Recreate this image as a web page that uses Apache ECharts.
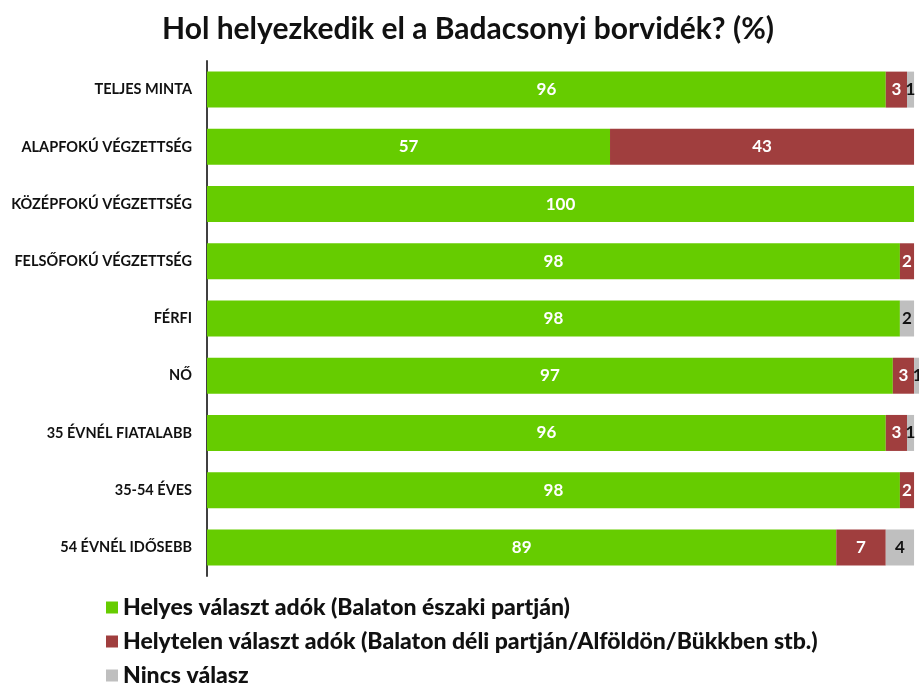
<!DOCTYPE html>
<html>
<head>
<meta charset="utf-8">
<script src="https://cdn.jsdelivr.net/npm/echarts@6/dist/echarts.min.js"></script>
<style>
html, body { margin: 0; padding: 0; background: #fff; }
#chart { width: 919px; height: 687px; }
</style>
</head>
<body>
<div id="chart"></div>
<script>
// adatok
var categories = ['TELJES MINTA', 'ALAPFOKÚ VÉGZETTSÉG', 'KÖZÉPFOKÚ VÉGZETTSÉG', 'FELSŐFOKÚ VÉGZETTSÉG',
    'FÉRFI', 'NŐ', '35 ÉVNÉL FIATALABB', '35-54 ÉVES', '54 ÉVNÉL IDŐSEBB'];
var helyes = [96, 57, 100, 98, 98, 97, 96, 98, 89];
var helytelen = [3, 43, 0, 2, 0, 3, 3, 2, 7];
var nincs = [1, 0, 0, 0, 2, 1, 1, 0, 4];

var seriesNames = ['Helyes választ adók (Balaton északi partján)',
    'Helytelen választ adók (Balaton déli partján/Alföldön/Bükkben stb.)',
    'Nincs válasz'];
var colors = ['#66CC00', '#A03E3E', '#BFBFBF'];
var labelColors = ['#fff', '#fff', '#111'];

var font = 'Lato, "Open Sans", sans-serif';

function makeSeries(i, data) {
    return {
        name: seriesNames[i],
        type: 'bar',
        stack: 'total',
        barWidth: 36,
        clip: false,
        data: data,
        itemStyle: { color: colors[i] },
        label: {
            show: true,
            position: 'inside',
            color: labelColors[i],
            fontFamily: font,
            fontWeight: 'bold',
            fontSize: 17,
            formatter: function (p) { return p.value ? p.value : ''; }
        }
    };
}

var chart = echarts.init(document.getElementById('chart'));
chart.setOption({
    animation: false,
    color: colors,
    title: {
        text: 'Hol helyezkedik el a Badacsonyi borvidék? (%)',
        left: 463,
        textAlign: 'center',
        top: 9,
        textStyle: { fontFamily: font, fontWeight: 'bold', fontSize: 30, color: '#111' }
    },
    legend: {
        orient: 'vertical',
        left: 101,
        top: 591,
        height: 200,
        itemGap: 11,
        itemWidth: 12,
        itemHeight: 12,
        icon: 'rect',
        textStyle: { fontFamily: font, fontWeight: 900, fontSize: 23, color: '#111' },
        data: seriesNames
    },
    grid: { left: 207, right: 0, top: 61, height: 515 },
    xAxis: {
        type: 'value',
        min: 0,
        max: 100.7,
        show: false
    },
    yAxis: {
        type: 'category',
        inverse: true,
        data: categories,
        axisLine: { show: true, lineStyle: { color: '#404040', width: 2 } },
        axisTick: { show: false },
        axisLabel: {
            margin: 15,
            fontFamily: font,
            fontWeight: 'bold',
            fontSize: 14.5,
            color: '#111'
        }
    },
    series: [makeSeries(0, helyes), makeSeries(1, helytelen), makeSeries(2, nincs)]
});
</script>
</body>
</html>
